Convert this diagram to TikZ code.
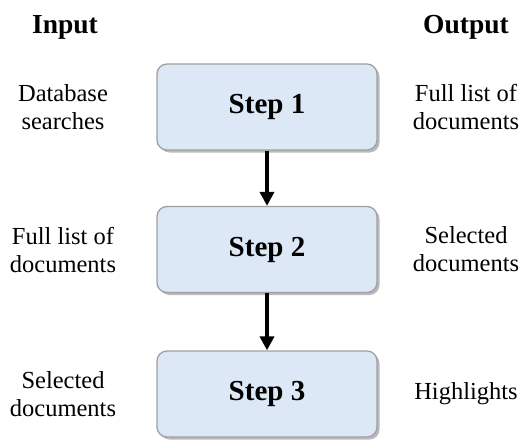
\documentclass[tikz,border=0pt]{standalone}
\usepackage{fontspec}
\setmainfont{Liberation Serif}
\usetikzlibrary{arrows.meta,shadows}
\definecolor{boxfill}{RGB}{220,232,246}
\definecolor{boxline}{RGB}{160,160,160}
\tikzset{
  stepbox/.style={draw=boxline, line width=1.3pt, fill=boxfill, rounded corners=10pt,
    minimum width=220pt, minimum height=86pt, inner sep=0pt,
    font=\fontsize{29}{32}\selectfont\bfseries,
    drop shadow={shadow xshift=2.5pt, shadow yshift=-2.5pt, opacity=0.45, fill=black!60}},
  iotext/.style={align=center, inner sep=0pt, font=\fontsize{24.5}{28}\selectfont},
  head/.style={inner sep=0pt, font=\fontsize{27.5}{30}\selectfont\bfseries},
  flow/.style={line width=4pt, -{Triangle[width=14pt,length=14pt]}}
}
\begin{document}
\begin{tikzpicture}[x=1pt,y=-1pt]
\useasboundingbox (0,0) rectangle (521,439);
\node[head] (in) at (65,27) {Input};
\node[head] (out) at (466,27) {Output};
\node[stepbox] (s1) at (267,107) {Step 1};
\node[stepbox] (s2) at (267,249.5) {Step 2};
\node[stepbox] (s3) at (267,394) {Step 3};
\node[iotext] (i1) at (63,107) {Database\\searches};
\node[iotext] (o1) at (466,107) {Full list of\\documents};
\node[iotext] (i2) at (63,249.5) {Full list of\\documents};
\node[iotext] (o2) at (466,249.5) {Selected\\documents};
\node[iotext] (i3) at (63,394) {Selected\\documents};
\node[iotext] (o3) at (466,394) {Highlights};
\draw[flow] (s1.south) -- (s2.north);
\draw[flow] (s2.south) -- (s3.north);
\end{tikzpicture}
\end{document}
